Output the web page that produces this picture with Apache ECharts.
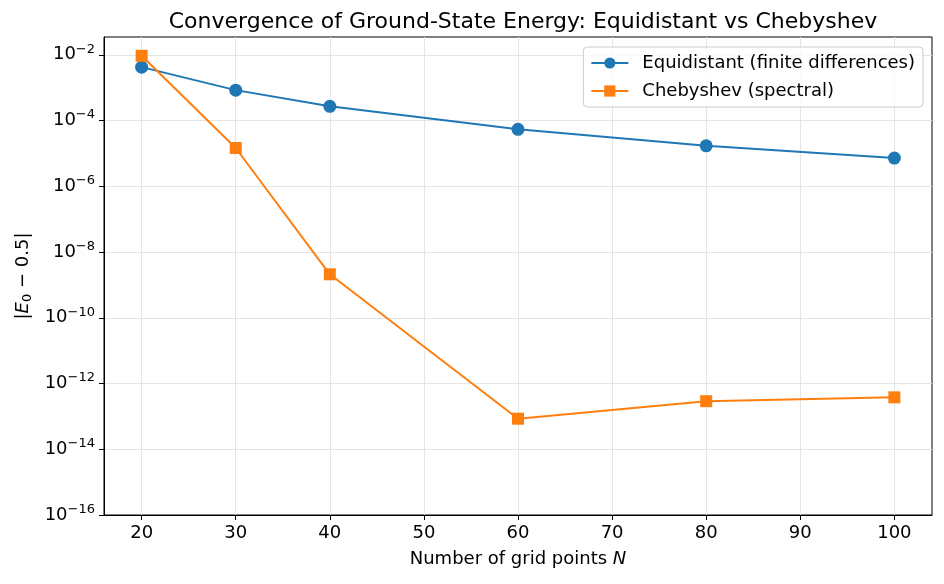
<!DOCTYPE html>
<html>
<head>
<meta charset="utf-8">
<script src="https://cdn.jsdelivr.net/npm/echarts@6/dist/echarts.min.js"></script>
<style>
html,body{margin:0;padding:0;background:#fff;}
#main{width:944px;height:584px;}
</style>
</head>
<body>
<div id="main"></div>
<script>
const gridPoints = [20, 30, 40, 60, 80, 100];
const equidistantErr = [4.2e-3, 8.4e-4, 2.7e-4, 5.4e-5, 1.7e-5, 7.2e-6];
const chebyshevErr = [9.3e-3, 1.46e-5, 2.1e-9, 8.5e-14, 2.9e-13, 3.8e-13];
const yTickValues = [1e-16, 1e-14, 1e-12, 1e-10, 1e-8, 1e-6, 1e-4, 1e-2];
const xTickValues = [20, 30, 40, 50, 60, 70, 80, 90, 100];

const FONT = 'DejaVu Sans';
const chart = echarts.init(document.getElementById('main'), null, {renderer: 'canvas'});

function pairs(xs, ys) { return xs.map((x, i) => [x, ys[i]]); }
function expLabel(v) {
  const e = Math.round(Math.log10(v));
  return '{b|10}{s|' + (e < 0 ? '\u2212' + (-e) : String(e)) + '}';
}

const option = {
  backgroundColor: '#ffffff',
  animation: false,
  title: {
    text: 'Convergence of Ground-State Energy: Equidistant vs Chebyshev',
    left: 518, top: 6, textAlign: 'center',
    textStyle: {fontFamily: FONT, fontSize: 22, fontWeight: 'normal', color: '#000'}
  },
  grid: {left: 104, right: 12, top: 37, bottom: 69, show: true, borderColor: '#000', borderWidth: 1, backgroundColor: 'transparent'},
  legend: {
    orient: 'vertical', right: 21, top: 47,
    backgroundColor: 'rgba(255,255,255,0.8)', borderColor: '#cccccc', borderWidth: 1, borderRadius: 4,
    padding: [7, 8, 7, 7], itemGap: 10, itemWidth: 37, itemHeight: 14,
    textStyle: {fontFamily: FONT, fontSize: 18, color: '#000', padding: [0, 0, 0, 9]},
    data: ['Equidistant (finite differences)', 'Chebyshev (spectral)']
  },
  xAxis: {
    type: 'value', min: 16, max: 104,
    name: 'Number of grid points {i|N}', nameLocation: 'middle', nameGap: 35,
    nameTextStyle: {fontFamily: FONT, fontSize: 18, color: '#000',
      rich: {i: {fontFamily: FONT, fontSize: 18, fontStyle: 'italic', color: '#000'}}},
    axisLine: {show: true, onZero: false, lineStyle: {color: '#000', width: 1}},
    axisTick: {show: true, length: 5, inside: false, lineStyle: {color: '#000'}, customValues: xTickValues},
    axisLabel: {fontFamily: FONT, fontSize: 18, color: '#000', margin: 9, customValues: xTickValues},
    splitLine: {show: true, lineStyle: {color: '#e5e5e5', width: 1}}
  },
  yAxis: {
    type: 'log', logBase: 10, min: 1e-16, max: 0.0347,
    name: '|{i|E}{sub|0} \u2212 0.5|', nameLocation: 'middle', nameGap: 70, nameRotate: 90,
    nameTextStyle: {fontFamily: FONT, fontSize: 18, color: '#000',
      rich: {
        i: {fontFamily: FONT, fontSize: 18, fontStyle: 'italic', color: '#000'},
        sub: {fontFamily: FONT, fontSize: 13, color: '#000', padding: [7, 0, 0, 0]}
      }},
    axisLine: {show: true, lineStyle: {color: '#000', width: 1}},
    axisTick: {show: true, length: 5, lineStyle: {color: '#000'}, customValues: yTickValues},
    axisLabel: {
      fontFamily: FONT, fontSize: 18, color: '#000', margin: 9, customValues: yTickValues,
      formatter: expLabel,
      rich: {
        b: {fontFamily: FONT, fontSize: 18, color: '#000'},
        s: {fontFamily: FONT, fontSize: 13, color: '#000', padding: [0, 0, 11, 0]}
      }
    },
    splitLine: {show: true, lineStyle: {color: '#e5e5e5', width: 1}}
  },
  series: [
    {
      name: 'Equidistant (finite differences)', type: 'line',
      data: pairs(gridPoints, equidistantErr),
      symbol: 'circle', symbolSize: 13,
      lineStyle: {color: '#1f77b4', width: 2}, itemStyle: {color: '#1f77b4'}, z: 3
    },
    {
      name: 'Chebyshev (spectral)', type: 'line',
      data: pairs(gridPoints, chebyshevErr),
      symbol: 'rect', symbolSize: 12,
      lineStyle: {color: '#ff7f0e', width: 2}, itemStyle: {color: '#ff7f0e'}, z: 4
    }
  ]
};
chart.setOption(option);
</script>
</body>
</html>
